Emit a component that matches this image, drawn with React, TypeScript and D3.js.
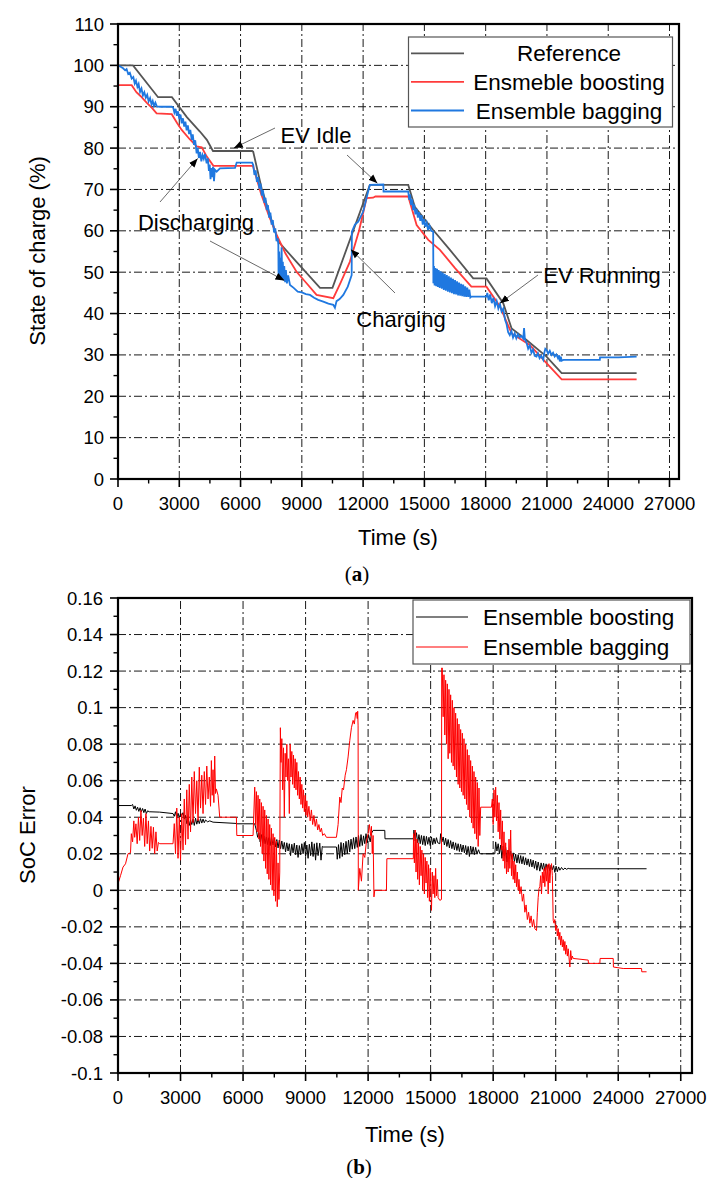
import React from "react";
import * as d3 from "d3";

type P = [number, number];

// ---------- Panel (a): State of charge ----------
const socXTicks = [0, 3000, 6000, 9000, 12000, 15000, 18000, 21000, 24000, 27000];
const socYTicks = [0, 10, 20, 30, 40, 50, 60, 70, 80, 90, 100, 110];

const refSoc: P[] = [
  [0, 100], [735, 100], [1960, 92.3], [2640, 92.3], [3370, 87.5], [4010, 84], [4350, 82], [4650, 79.3],
  [6570, 79.3], [6620, 79.1], [7030, 70.3], [7440, 63.8], [7850, 57.4], [8740, 52.5], [9890, 46.2],
  [10500, 46.2], [12330, 71.1], [14210, 71.1], [14530, 65.8], [15430, 60.2], [16250, 55.4], [17390, 48.5],
  [18040, 48.5], [18860, 42.5], [19270, 36.4], [20000, 33.6], [20980, 29.6], [21720, 25.6], [25390, 25.6],
];

const boostSoc: P[] = [
  [0, 95.2], [670, 95.2], [900, 93.5], [1100, 92.6], [1400, 91], [1650, 89.8], [1890, 88.4], [2630, 88.2],
  [2900, 86], [3120, 84.4], [3500, 82.2], [3850, 80.4], [4100, 80.2], [4340, 78], [4670, 75.7], [6570, 75.7],
  [6620, 75.5], [7000, 69], [7400, 63.5], [7770, 59], [8200, 54.5], [8740, 50.1], [9200, 47.5], [9720, 44.5],
  [10540, 43.7], [10900, 47.5], [11350, 52.5], [11800, 60], [12170, 67.9], [12490, 68], [12600, 68.3],
  [14210, 68.3], [14620, 61.4], [15190, 57.8], [15760, 55.4], [16500, 51], [17300, 46.5], [18040, 46.5],
  [18700, 41.7], [19270, 35.2], [20160, 32.4], [20980, 28], [21720, 24.1], [25390, 24.1],
];

const bagSoc: P[] = [
  [0, 100], [150, 99.6], [250, 99.3], [350, 98.8], [420, 99.1], [500, 97.9], [580, 98.2], [670, 96.8],
  [750, 97.2], [820, 95.6], [880, 96.3], [950, 94.8], [1010, 95.5], [1080, 93.6], [1150, 94.4], [1220, 92.7],
  [1290, 93.5], [1360, 92.2], [1430, 92.9], [1500, 91.3], [1570, 92.1], [1640, 90.6], [1700, 91.4],
  [1760, 90.2], [1830, 91], [1900, 90.1], [2055, 90], [2630, 90],
  [2700, 89.8], [2760, 88.6], [2820, 89.5], [2880, 87.8], [2940, 88.9], [3000, 87], [3060, 88.1], [3120, 86],
  [3180, 87.2], [3240, 85.2], [3300, 86.4], [3360, 84.3], [3420, 85.5], [3480, 83.4], [3540, 84.4],
  [3610, 82], [3660, 83.3], [3720, 80.8], [3780, 81.9], [3850, 78.7], [3900, 80.1], [3960, 77.6],
  [4020, 79.1], [4080, 76.8], [4140, 78.3], [4200, 77.4], [4260, 78.6], [4340, 76.3], [4400, 77.5],
  [4450, 74.5], [4490, 76], [4530, 72.5], [4570, 75.2], [4610, 73], [4650, 75.5], [4700, 72], [4740, 74.8],
  [4830, 74.3], [4990, 75.1], [5730, 75.2], [5810, 76.5], [6570, 76.5],
  [6620, 75.9], [6680, 73.5], [6740, 74.6], [6800, 71.8], [6860, 73], [6920, 70.2], [6980, 71.4],
  [7040, 68.5], [7100, 69.8], [7160, 66.8], [7220, 68], [7280, 65], [7340, 66.2], [7400, 63.2],
  [7460, 64.4], [7520, 61.5], [7580, 62.6], [7640, 59.6], [7700, 60.6], [7760, 57.5], [7820, 58.2],
  [7850, 56.6], [7860, 49.3], [7890, 55], [7920, 49], [7950, 53.5], [7980, 48.6], [8010, 56], [8040, 48.3],
  [8070, 52.5], [8100, 48], [8140, 51.5], [8180, 47.6], [8220, 50.5], [8270, 47.3], [8330, 49.2],
  [8420, 46.9], [8600, 46.2], [8800, 45.3], [9000, 45.1], [9200, 44.7], [9400, 44.5], [9600, 43.8],
  [9800, 43.3], [10050, 42.9], [10300, 42.4], [10540, 42.1], [10620, 41.4], [10700, 43], [10850, 43.5],
  [11030, 44.5], [11250, 46.5], [11440, 49.3], [11450, 59.8], [11600, 61.5], [11760, 62.2], [12000, 64.6],
  [12330, 71.1], [12990, 71.2], [13000, 69.5], [14210, 69.5],
  [14260, 67.5], [14300, 68.8], [14350, 66.2], [14400, 67.6], [14450, 65], [14500, 66.4], [14560, 64],
  [14620, 65.3], [14680, 63.2], [14740, 64.5], [14800, 62.4], [14860, 63.8], [14920, 61.5], [14980, 62.8],
  [15040, 61], [15110, 62], [15180, 60.2], [15250, 61.3], [15330, 60], [15430, 59.8], [15440, 47.3],
  [15470, 51.5], [15500, 46.8], [15540, 51], [15580, 46.6], [15620, 50.8], [15660, 46.4], [15700, 50.5],
  [15750, 46.2], [15800, 50.2], [15850, 46], [15900, 49.9], [15950, 45.7], [16000, 49.6], [16050, 45.5],
  [16100, 49.3], [16150, 45.3], [16200, 49], [16250, 45.1], [16300, 48.7], [16350, 44.9], [16400, 48.4],
  [16450, 44.7], [16500, 48.1], [16550, 44.6], [16600, 47.8], [16650, 44.4], [16700, 47.5], [16750, 44.3],
  [16800, 47.2], [16850, 44.2], [16900, 47], [16950, 44.1], [17000, 46.6], [17050, 44], [17100, 46.3],
  [17150, 44], [17200, 45.8], [17250, 43.9], [17300, 44.1], [18040, 44.1],
  [18080, 45], [18150, 43.2], [18220, 44.6], [18300, 42.5], [18380, 43.8], [18460, 41.8], [18540, 43],
  [18620, 41.2], [18700, 42.3], [18780, 40.5], [18860, 41.2], [18950, 38.5], [19020, 37.5], [19100, 35.5],
  [19180, 34.8], [19260, 35.8], [19340, 34.2], [19420, 35.2], [19500, 34], [19580, 35], [19660, 34.2],
  [19740, 34.6], [19840, 34], [19880, 36.5], [19920, 33.8], [20000, 33], [20080, 31.5], [20160, 32.3],
  [20240, 30.5], [20320, 31.3], [20400, 29.8], [20490, 29.6], [20560, 30.4], [20640, 29.2], [20720, 29.8],
  [20820, 28.8], [20870, 30.5], [20920, 31.5], [20980, 31.2], [21060, 30.3], [21140, 31], [21220, 30],
  [21300, 30.5], [21380, 29.6], [21460, 30.1], [21540, 29.2], [21600, 29.9], [21630, 28.4], [21680, 29.6],
  [21720, 28.6], [21800, 28.8], [23590, 28.8], [23600, 29.4], [24500, 29.4], [25390, 29.6],
];

// ---------- Panel (b): SoC error ----------
const errXTicks = [0, 3000, 6000, 9000, 12000, 15000, 18000, 21000, 24000, 27000];
const errYTicks = [-0.1, -0.08, -0.06, -0.04, -0.02, 0, 0.02, 0.04, 0.06, 0.08, 0.1, 0.12, 0.14, 0.16];

const boostErr: P[] = [
  [0, 0.0464], [640, 0.0464], [700, 0.047], [760, 0.0445], [820, 0.0462], [880, 0.0438], [940, 0.0455],
  [1000, 0.0432], [1060, 0.0452], [1120, 0.043], [1180, 0.0448], [1240, 0.0425], [1300, 0.0445],
  [1360, 0.042], [1420, 0.0435], [1500, 0.043], [2000, 0.0428], [2640, 0.042], [2700, 0.0405],
  [2760, 0.043], [2820, 0.0395], [2880, 0.0422], [2940, 0.0398], [3000, 0.0418], [3060, 0.041],
  [3120, 0.0425], [3180, 0.039], [3240, 0.041], [3300, 0.0365], [3360, 0.0395], [3420, 0.0355],
  [3480, 0.0385], [3540, 0.036], [3600, 0.039], [3660, 0.0355], [3720, 0.0395], [3780, 0.0362],
  [3840, 0.0388], [3900, 0.0365], [3960, 0.0392], [4020, 0.0368], [4080, 0.039], [4140, 0.037],
  [4200, 0.0385], [4300, 0.0375], [4400, 0.038], [4560, 0.0373], [5680, 0.0366], [5690, 0.0364],
  [6560, 0.0364], [6640, 0.0328], [6700, 0.029], [6760, 0.0315], [6820, 0.0265], [6880, 0.0305],
  [6940, 0.0258], [7000, 0.0298], [7060, 0.0255], [7120, 0.0292], [7180, 0.025], [7240, 0.0288],
  [7300, 0.0245], [7360, 0.029], [7440, 0.0248], [7500, 0.0285], [7560, 0.0238], [7620, 0.0278],
  [7680, 0.0232], [7740, 0.0275], [7800, 0.0228], [7860, 0.027], [7920, 0.0225], [7980, 0.0262],
  [8040, 0.021], [8100, 0.026], [8160, 0.0215], [8220, 0.0255], [8280, 0.019], [8340, 0.0252],
  [8400, 0.0205], [8460, 0.0258], [8520, 0.0195], [8580, 0.0248], [8640, 0.018], [8700, 0.0245],
  [8760, 0.0195], [8820, 0.0255], [8880, 0.02], [8940, 0.0262], [9000, 0.0185], [9060, 0.0248],
  [9120, 0.0175], [9180, 0.0252], [9240, 0.019], [9300, 0.0265], [9360, 0.0185], [9420, 0.0255],
  [9480, 0.0165], [9540, 0.026], [9600, 0.019], [9680, 0.0258], [9740, 0.0165], [9800, 0.024],
  [9840, 0.0237], [10480, 0.0237], [10520, 0.017], [10580, 0.025], [10640, 0.0175], [10700, 0.0262],
  [10760, 0.0185], [10820, 0.0258], [10880, 0.0195], [10940, 0.0268], [11000, 0.02], [11060, 0.0275],
  [11120, 0.021], [11180, 0.028], [11240, 0.0225], [11300, 0.0288], [11360, 0.0228], [11420, 0.0292],
  [11480, 0.0235], [11540, 0.03], [11600, 0.024], [11660, 0.0305], [11720, 0.0245], [11780, 0.0298],
  [11840, 0.0255], [11900, 0.031], [11960, 0.026], [12020, 0.0305], [12100, 0.0265], [12160, 0.0312],
  [12240, 0.0328], [12800, 0.0328], [12810, 0.0282], [14170, 0.0282],
  [14200, 0.033], [14260, 0.027], [14320, 0.0315], [14380, 0.026], [14440, 0.0305], [14500, 0.0255],
  [14560, 0.03], [14620, 0.025], [14680, 0.0298], [14740, 0.0245], [14800, 0.0295], [14860, 0.0252],
  [14920, 0.029], [14980, 0.0245], [15040, 0.0292], [15100, 0.025], [15160, 0.0285], [15220, 0.0255],
  [15280, 0.0288], [15340, 0.026], [15440, 0.0255], [15480, 0.031], [15540, 0.0265], [15600, 0.0292],
  [15660, 0.0248], [15720, 0.0285], [15780, 0.024], [15840, 0.0278], [15900, 0.0232], [15960, 0.0272],
  [16020, 0.0228], [16080, 0.0265], [16140, 0.0222], [16200, 0.026], [16260, 0.0218], [16320, 0.0255],
  [16380, 0.0212], [16440, 0.0252], [16500, 0.021], [16560, 0.0248], [16620, 0.0205], [16680, 0.0245],
  [16740, 0.0195], [16800, 0.024], [16860, 0.0185], [16920, 0.0242], [16980, 0.02], [17040, 0.0238],
  [17100, 0.0195], [17160, 0.0235], [17220, 0.02], [17300, 0.0222], [17360, 0.02], [18080, 0.02],
  [18120, 0.0265], [18180, 0.0215], [18240, 0.0255], [18300, 0.02], [18360, 0.0248], [18420, 0.0175],
  [18480, 0.0242], [18540, 0.019], [18600, 0.0235], [18660, 0.0155], [18720, 0.022], [18780, 0.0175],
  [18840, 0.0215], [18900, 0.017], [18960, 0.0205], [19020, 0.0158], [19080, 0.0198], [19140, 0.015],
  [19200, 0.0195], [19260, 0.0148], [19320, 0.019], [19380, 0.0145], [19440, 0.0185], [19500, 0.014],
  [19560, 0.0178], [19620, 0.0138], [19680, 0.0172], [19740, 0.013], [19800, 0.017], [19860, 0.0128],
  [19920, 0.0165], [19980, 0.012], [20040, 0.016], [20100, 0.011], [20160, 0.0155], [20240, 0.0105],
  [20300, 0.015], [20360, 0.0115], [20420, 0.0148], [20480, 0.0108], [20540, 0.0145], [20600, 0.011],
  [20660, 0.014], [20720, 0.0105], [20780, 0.0138], [20840, 0.0112], [20900, 0.0135], [20960, 0.0098],
  [21020, 0.0132], [21080, 0.0102], [21140, 0.0128], [21200, 0.011], [21280, 0.0125], [21360, 0.0112],
  [21440, 0.0122], [21520, 0.0115], [21600, 0.012], [21680, 0.0118], [25360, 0.0118],
];

const bagErr: P[] = [
  [0, 0.0036], [120, 0.008], [240, 0.0127], [360, 0.0145], [480, 0.02], [600, 0.0205], [640, 0.031],
  [700, 0.0265], [760, 0.038], [800, 0.029], [860, 0.0364], [920, 0.0255], [980, 0.04], [1040, 0.0273],
  [1100, 0.0437], [1160, 0.03], [1220, 0.0395], [1280, 0.024], [1340, 0.042], [1400, 0.0255],
  [1460, 0.038], [1520, 0.0215], [1580, 0.035], [1640, 0.023], [1700, 0.0345], [1760, 0.02],
  [1820, 0.032], [1880, 0.0215], [1940, 0.0262], [2000, 0.0255], [2640, 0.0255],
  [2700, 0.0365], [2760, 0.02], [2820, 0.045], [2880, 0.0175], [2940, 0.04], [3000, 0.0165],
  [3060, 0.042], [3120, 0.022], [3180, 0.05], [3240, 0.025], [3300, 0.055], [3360, 0.028], [3420, 0.058],
  [3480, 0.032], [3540, 0.062], [3600, 0.037], [3660, 0.065], [3720, 0.042], [3780, 0.06], [3840, 0.038],
  [3900, 0.0674], [3960, 0.045], [4020, 0.063], [4080, 0.042], [4140, 0.065], [4200, 0.047], [4260, 0.068],
  [4320, 0.05], [4380, 0.062], [4440, 0.046], [4480, 0.071], [4520, 0.052], [4560, 0.066], [4600, 0.048],
  [4640, 0.0735], [4680, 0.053], [4720, 0.0555], [4800, 0.052], [4880, 0.04], [5680, 0.04], [5700, 0.03],
  [6480, 0.03],
  [6560, 0.0565], [6600, 0.036], [6640, 0.054], [6680, 0.032], [6720, 0.052], [6760, 0.028], [6800, 0.05],
  [6840, 0.024], [6880, 0.048], [6920, 0.02], [6960, 0.046], [7000, 0.016], [7040, 0.044], [7080, 0.012],
  [7120, 0.041], [7160, 0.009], [7200, 0.039], [7240, 0.006], [7280, 0.036], [7320, 0.003], [7360, 0.034],
  [7400, 0], [7440, 0.031], [7480, -0.003], [7520, 0.029], [7560, -0.006], [7600, 0.027], [7640, -0.009],
  [7680, 0.015], [7720, -0.005], [7760, 0.01], [7790, 0.089],
  [7820, 0.07], [7860, 0.083], [7900, 0.055], [7940, 0.078], [7980, 0.04], [8020, 0.075], [8060, 0.062],
  [8100, 0.08], [8140, 0.06], [8180, 0.072], [8220, 0.042], [8260, 0.08], [8300, 0.062], [8340, 0.076],
  [8380, 0.058], [8420, 0.074], [8460, 0.056], [8500, 0.072], [8540, 0.055], [8580, 0.07], [8620, 0.052],
  [8660, 0.065], [8700, 0.05], [8740, 0.062], [8780, 0.047], [8820, 0.058], [8860, 0.045], [8900, 0.055],
  [8940, 0.043], [8980, 0.052], [9020, 0.041], [9060, 0.049], [9100, 0.04], [9160, 0.046], [9220, 0.038],
  [9280, 0.044], [9340, 0.036], [9400, 0.041], [9460, 0.035], [9520, 0.039], [9580, 0.033], [9640, 0.036],
  [9700, 0.032], [9760, 0.034], [9820, 0.03], [9900, 0.031], [10000, 0.029], [10480, 0.029],
  [10560, 0.036], [10640, 0.051], [10700, 0.048], [10760, 0.056], [10820, 0.055], [10900, 0.063],
  [10960, 0.066], [11040, 0.073], [11120, 0.082], [11200, 0.089], [11280, 0.093], [11340, 0.091],
  [11400, 0.097], [11440, 0.0975], [11480, 0.094], [11500, 0.098], [11520, 0.09], [11530, 0],
  [11600, 0.012], [11680, 0.005], [11760, 0.02], [11840, 0.018], [11920, 0.027], [12000, 0.031],
  [12060, 0.036], [12120, 0.03], [12160, 0.035], [12200, 0.02], [12240, 0.03], [12280, -0.0036],
  [12320, 0], [12880, 0], [12900, 0.0173], [14170, 0.0173],
  [14180, 0.031], [14220, 0.015], [14260, 0.033], [14300, 0.01], [14340, 0.028], [14380, 0.006],
  [14420, 0.026], [14460, 0.003], [14500, 0.024], [14540, 0.008], [14580, 0.022], [14620, 0], [14660, 0.02],
  [14700, -0.002], [14740, 0.018], [14780, 0.004], [14820, 0.016], [14860, -0.004], [14900, 0.014],
  [14940, -0.006], [14980, 0.012], [15040, -0.011], [15080, 0.01], [15120, -0.002], [15160, 0.008],
  [15200, -0.004], [15240, 0.012], [15280, -0.003], [15320, 0.006], [15360, -0.004], [15440, -0.0055],
  [15520, -0.005], [15530, 0.1217],
  [15560, 0.1217], [15600, 0.095], [15640, 0.118], [15680, 0.085], [15720, 0.115], [15760, 0.08],
  [15800, 0.113], [15840, 0.072], [15880, 0.11], [15920, 0.075], [15960, 0.107], [16000, 0.07],
  [16040, 0.104], [16080, 0.068], [16120, 0.1], [16160, 0.066], [16200, 0.097], [16240, 0.062],
  [16280, 0.094], [16320, 0.058], [16360, 0.091], [16400, 0.056], [16440, 0.088], [16480, 0.054],
  [16520, 0.086], [16560, 0.052], [16600, 0.083], [16640, 0.05], [16680, 0.08], [16720, 0.047],
  [16760, 0.077], [16800, 0.044], [16840, 0.074], [16880, 0.04], [16920, 0.071], [16960, 0.037],
  [17000, 0.068], [17040, 0.034], [17080, 0.065], [17120, 0.031], [17160, 0.062], [17200, 0.028],
  [17240, 0.059], [17280, 0.024], [17320, 0.056], [17360, 0.03], [17400, 0.0455], [17920, 0.0455],
  [17960, 0.05], [18000, 0.036], [18040, 0.055], [18080, 0.04], [18120, 0.0565], [18160, 0.038],
  [18200, 0.052], [18240, 0.032], [18280, 0.048], [18320, 0.028], [18360, 0.044], [18400, 0.022],
  [18440, 0.038], [18480, 0.016], [18520, 0.032], [18560, 0.012], [18600, 0.026], [18640, 0.009],
  [18680, 0.022], [18720, 0.01], [18760, 0.028], [18800, 0.012], [18840, 0.033], [18880, 0.008],
  [18920, 0.02], [18960, 0.006], [19000, 0.016], [19040, 0.004], [19080, 0.014], [19120, 0.002],
  [19160, 0.01], [19200, 0], [19240, 0.006], [19280, -0.002], [19340, 0.002], [19400, -0.006],
  [19460, -0.002], [19520, -0.012], [19580, -0.008], [19640, -0.016], [19700, -0.012], [19760, -0.018],
  [19820, -0.014], [19880, -0.02], [19940, -0.016], [20000, -0.021], [20080, -0.022], [20120, -0.012],
  [20160, -0.004], [20200, 0.001], [20240, 0.002], [20280, 0.008], [20320, -0.002], [20360, 0.01],
  [20400, 0.004], [20440, 0.012], [20480, 0.002], [20520, 0.013], [20560, 0.005], [20600, 0.014],
  [20640, -0.002], [20680, 0.0146], [20720, 0.004], [20760, 0.012], [20800, 0.0146], [20840, 0.008],
  [20880, -0.0164], [20920, -0.018], [20960, -0.016], [21000, -0.022], [21040, -0.019], [21080, -0.025],
  [21120, -0.021], [21160, -0.027], [21200, -0.023], [21240, -0.03], [21280, -0.025], [21320, -0.031],
  [21360, -0.027], [21400, -0.033], [21440, -0.028], [21480, -0.035], [21520, -0.03], [21560, -0.036],
  [21600, -0.032], [21640, -0.037], [21680, -0.042], [21720, -0.033], [21760, -0.038], [21800, -0.036],
  [21840, -0.0373], [22560, -0.0382], [22570, -0.04], [23120, -0.04], [23130, -0.0373], [23760, -0.0373],
  [23770, -0.042], [24240, -0.0428], [25120, -0.0428], [25130, -0.0446], [25360, -0.0446],
];

// annotations: text position in px, arrows from a px point to a data point [fromX, fromY, toT, toV]
type Ann = { label: string; tx: number; ty: number; arrows: [number, number, number, number][] };
const socAnnotations: Ann[] = [
  { label: "EV Idle", tx: 316, ty: 143, arrows: [[275, 128, 5670, 80], [347, 155, 12700, 71.5]] },
  { label: "Discharging", tx: 196, ty: 230, arrows: [[160, 202, 3900, 77.5], [210, 241, 8150, 48]] },
  { label: "Charging", tx: 401, ty: 327, arrows: [[395, 293, 11400, 55.5]] },
  { label: "EV Running", tx: 602, ty: 283, arrows: [[538, 275, 18700, 42.5]] },
];

const FONT = "'Liberation Sans', Arial, Helvetica, sans-serif";
const SERIF = "'Liberation Serif', 'Times New Roman', serif";
const GRID_DASH = "8,3,2,3";

type AxisProps = {
  x: d3.ScaleLinear<number, number>;
  y: d3.ScaleLinear<number, number>;
  xTicks: number[];
  yTicks: number[];
  xMinor: number[];
  yMinor: number[];
  yFmt: (v: number) => string;
  yLabelOffset: number;
};

function Frame({ x, y, xTicks, yTicks, xMinor, yMinor, yFmt, yLabelOffset }: AxisProps) {
  const [x0, x1] = x.range();
  const [y0, y1] = y.range();
  return (
    <g>
      {xTicks.filter((t) => t > 0).map((t) => (
        <line key={"gx" + t} x1={x(t)} x2={x(t)} y1={y0} y2={y1} stroke="#1a1a1a" strokeWidth={1} strokeDasharray={GRID_DASH} />
      ))}
      {yTicks.filter((t) => y(t) < y0 - 1 && y(t) > y1 + 1).map((t) => (
        <line key={"gy" + t} x1={x0} x2={x1} y1={y(t)} y2={y(t)} stroke="#1a1a1a" strokeWidth={1} strokeDasharray={GRID_DASH} />
      ))}
      {xTicks.map((t) => (
        <g key={"xt" + t}>
          <line x1={x(t)} x2={x(t)} y1={y0} y2={y0 + 8} stroke="#000" strokeWidth={1.6} />
          <text x={x(t)} y={y0 + 31} textAnchor="middle" fontSize={18.5} fontFamily={FONT} fill="#000">{t}</text>
        </g>
      ))}
      {xMinor.map((t) => (
        <line key={"xm" + t} x1={x(t)} x2={x(t)} y1={y0} y2={y0 + 4.5} stroke="#000" strokeWidth={1.4} />
      ))}
      {yTicks.map((t) => (
        <g key={"yt" + t}>
          <line x1={x0 - 8} x2={x0} y1={y(t)} y2={y(t)} stroke="#000" strokeWidth={1.6} />
          <text x={x0 - yLabelOffset} y={y(t) + 6.5} textAnchor="end" fontSize={18.5} fontFamily={FONT} fill="#000">{yFmt(t)}</text>
        </g>
      ))}
      {yMinor.map((t) => (
        <line key={"ym" + t} x1={x0 - 4.5} x2={x0} y1={y(t)} y2={y(t)} stroke="#000" strokeWidth={1.4} />
      ))}
    </g>
  );
}

function Border({ x, y }: { x: d3.ScaleLinear<number, number>; y: d3.ScaleLinear<number, number> }) {
  const [x0, x1] = x.range();
  const [y0, y1] = y.range();
  return <rect x={x0} y={y1} width={x1 - x0} height={y0 - y1} fill="none" stroke="#000" strokeWidth={2.2} />;
}

export default function App() {
  // panel a
  const xa = d3.scaleLinear().domain([0, 27465]).range([118, 679]);
  const ya = d3.scaleLinear().domain([0, 110]).range([479, 24]);
  const la = d3.line<P>().x((d) => xa(d[0])).y((d) => ya(d[1]));
  const xMinorA = d3.range(1500, 27465, 3000);
  const yMinorA = d3.range(5, 110, 10);

  // panel b
  const xb = d3.scaleLinear().domain([0, 27540]).range([118, 692]);
  const yb = d3.scaleLinear().domain([-0.1, 0.16]).range([1073, 598]);
  const lb = d3.line<P>().x((d) => xb(d[0])).y((d) => yb(d[1]));
  const xMinorB = d3.range(1500, 27540, 3000);
  const yMinorB = d3.range(-0.09, 0.16, 0.02).map((v) => +v.toFixed(3));

  const fmtB = (v: number) => String(+v.toFixed(2));

  return (
    <svg width={710} height={1178} style={{ position: "absolute", left: 0, top: 0, background: "#fff" }} fontFamily={FONT}>
      <defs>
        <marker id="ah" viewBox="0 0 10 10" refX={10} refY={5} markerWidth={9} markerHeight={9} markerUnits="userSpaceOnUse" orient="auto">
          <path d="M0,1 L10,5 L0,9 Z" fill="#000" />
        </marker>
      </defs>
      <rect x={0} y={0} width={710} height={1178} fill="#fff" />

      {/* ---------- panel a ---------- */}
      <Frame x={xa} y={ya} xTicks={socXTicks} yTicks={socYTicks} xMinor={xMinorA} yMinor={yMinorA} yFmt={(v) => String(v)} yLabelOffset={14} />
      <path d={la(refSoc) || ""} fill="none" stroke="#555555" strokeWidth={1.8} />
      <path d={la(boostSoc) || ""} fill="none" stroke="#ff3b3b" strokeWidth={1.8} />
      <path d={la(bagSoc) || ""} fill="none" stroke="#1f78e0" strokeWidth={1.8} />
      <Border x={xa} y={ya} />

      {socAnnotations.map((a) => (
        <g key={a.label}>
          {a.arrows.map((r, i) => (
            <line key={i} x1={r[0]} y1={r[1]} x2={xa(r[2])} y2={ya(r[3])} stroke="#444" strokeWidth={0.8} markerEnd="url(#ah)" />
          ))}
          <text x={a.tx} y={a.ty} textAnchor="middle" fontSize={22} fill="#000">{a.label}</text>
        </g>
      ))}

      {/* legend a */}
      <g>
        <rect x={408.5} y={37} width={264} height={90} fill="#fff" stroke="#555" strokeWidth={1.2} />
        {[
          { name: "Reference", color: "#555555" },
          { name: "Ensmeble boosting", color: "#ff3b3b" },
          { name: "Ensemble bagging", color: "#1f78e0" },
        ].map((s, i) => (
          <g key={s.name}>
            <line x1={411} x2={464} y1={53.3 + i * 28.6} y2={53.3 + i * 28.6} stroke={s.color} strokeWidth={1.8} />
            <text x={569} y={61 + i * 29} textAnchor="middle" fontSize={22.5} fill="#000">{s.name}</text>
          </g>
        ))}
      </g>

      <text transform="translate(45,251) rotate(-90)" textAnchor="middle" fontSize={22} fill="#000">State of charge (%)</text>
      <text x={398} y={545} textAnchor="middle" fontSize={22} fill="#000">Time (s)</text>
      <text x={357} y={581} textAnchor="middle" fontSize={21} fontFamily={SERIF} fill="#000">
        (<tspan fontWeight="bold">a</tspan>)
      </text>

      {/* ---------- panel b ---------- */}
      <Frame x={xb} y={yb} xTicks={errXTicks} yTicks={errYTicks} xMinor={xMinorB} yMinor={yMinorB} yFmt={fmtB} yLabelOffset={15} />
      <path d={lb(boostErr) || ""} fill="none" stroke="#000" strokeWidth={1} />
      <path d={lb(bagErr) || ""} fill="none" stroke="#ff0000" strokeWidth={1} />
      <Border x={xb} y={yb} />

      <g>
        <rect x={413} y={600} width={277} height={64} fill="#fff" stroke="#555" strokeWidth={1.2} />
        {[
          { name: "Ensemble boosting", color: "#000" },
          { name: "Ensemble bagging", color: "#ff0000" },
        ].map((s, i) => (
          <g key={s.name}>
            <line x1={416} x2={468} y1={617 + i * 30} y2={617 + i * 30} stroke={s.color} strokeWidth={1.2} />
            <text x={483} y={625 + i * 30} textAnchor="start" fontSize={22.5} fill="#000">{s.name}</text>
          </g>
        ))}
      </g>

      <text transform="translate(35,835) rotate(-90)" textAnchor="middle" fontSize={22} fill="#000">SoC Error</text>
      <text x={405} y={1142} textAnchor="middle" fontSize={22} fill="#000">Time (s)</text>
      <text x={359} y={1174} textAnchor="middle" fontSize={21} fontFamily={SERIF} fill="#000">
        (<tspan fontWeight="bold">b</tspan>)
      </text>
    </svg>
  );
}
